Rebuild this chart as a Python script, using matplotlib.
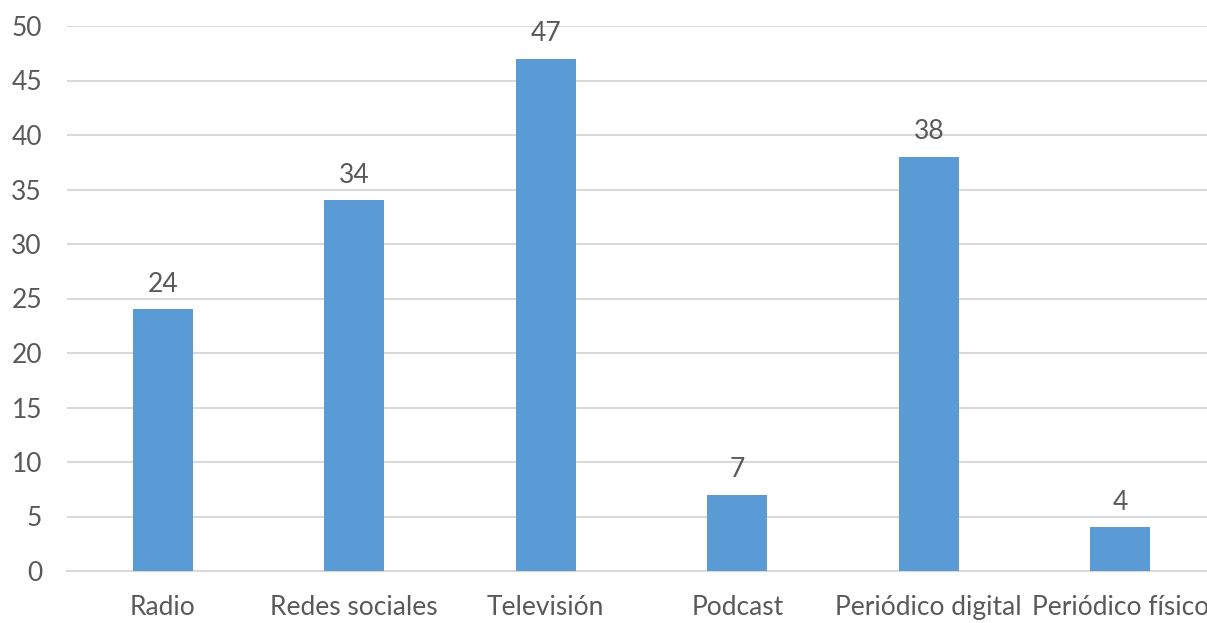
import matplotlib
matplotlib.use("Agg")
import matplotlib.pyplot as plt

categories = ["Radio", "Redes sociales", "Televisión", "Podcast",
              "Periódico digital", "Periódico físico"]
values = [24, 34, 47, 7, 38, 4]
yticks = [0, 5, 10, 15, 20, 25, 30, 35, 40, 45, 50]

bar_color = "#5B9BD5"
text_color = "#595959"
grid_color = "#D9D9D9"

plt.rcParams["font.family"] = ["Lato", "DejaVu Sans"]

fig = plt.figure(figsize=(12.07, 6.23), dpi=100)
ax = fig.add_axes([67 / 1207, 52 / 623, 1149 / 1207, 545 / 623])

x = list(range(len(categories)))
bars = ax.bar(x, values, width=0.315, color=bar_color, zorder=3)

# value labels above each bar
for xi, v in zip(x, values):
    ax.annotate(str(v), (xi, v), xytext=(0, 9), textcoords="offset points",
                ha="center", va="bottom", fontsize=19, color=text_color)

ax.set_xlim(-0.5, len(categories) - 0.5)
ax.set_ylim(0, 50)
ax.set_yticks(yticks)
ax.set_xticks(x)
ax.set_xticklabels(categories)
ax.tick_params(axis="both", length=0, labelsize=19, colors=text_color)
ax.tick_params(axis="x", pad=17)
ax.tick_params(axis="y", pad=18)

ax.yaxis.grid(True, color=grid_color, linewidth=1.5, zorder=0)
for side in ["top", "right", "left"]:
    ax.spines[side].set_visible(False)
ax.spines["bottom"].set_color(grid_color)
ax.spines["bottom"].set_linewidth(1.5)

fig.savefig("out.png", dpi=100)
